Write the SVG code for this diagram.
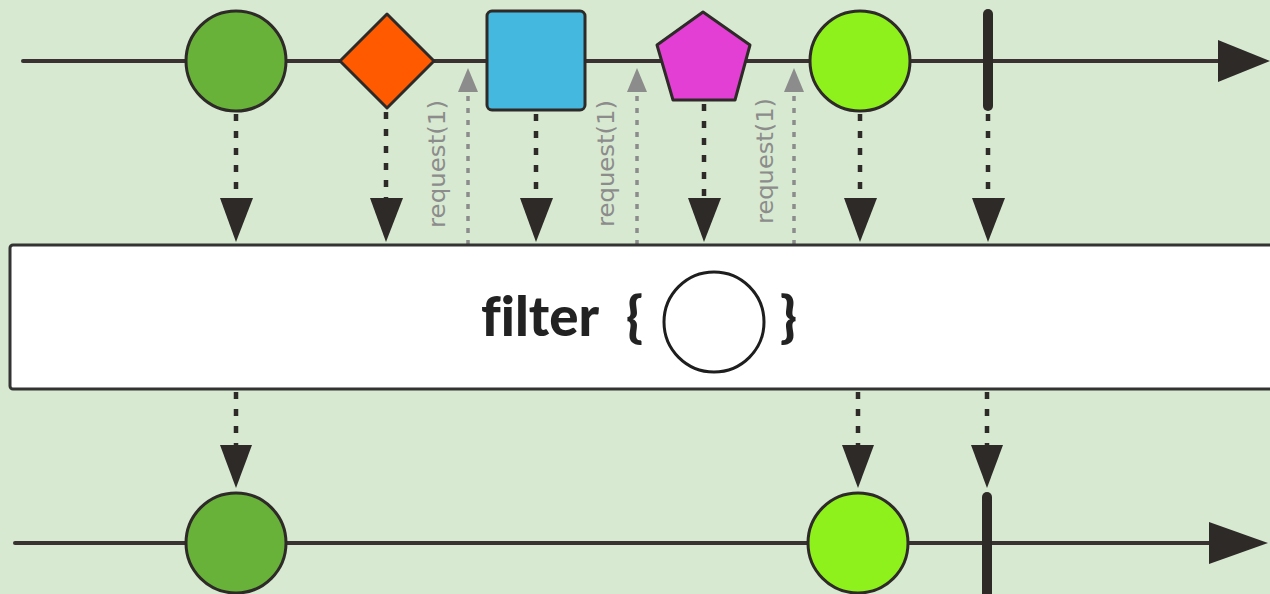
<svg xmlns="http://www.w3.org/2000/svg" width="1270" height="594" viewBox="0 0 1270 594">
  <style>
    .timeline { stroke: #3a3232; stroke-width: 4; fill: none; stroke-linecap: round; }
    .item { stroke: #2e2a28; stroke-width: 3; }
    .done { stroke: #2e2a28; stroke-width: 10; stroke-linecap: round; }
    .emit { stroke: #2e2a28; stroke-width: 4.5; stroke-dasharray: 7 10; fill: none; }
    .head { fill: #2e2a28; }
    .req { stroke: #8c8c8c; stroke-width: 3.5; stroke-dasharray: 5 7; fill: none; }
    .reqhead { fill: #8c8c8c; }
    .reqlabel { font-family: "DejaVu Sans", "Liberation Sans", sans-serif; font-size: 23px; fill: #8c8c8c; }
    .op { font-family: Lato, "Liberation Sans", sans-serif; font-weight: 900; font-size: 55px; fill: #222; font-variant-ligatures: none; }
  </style>

  <rect width="1270" height="594" fill="#d7e9d0"/>

  <!-- source timeline -->
  <g id="source-line">
    <line class="timeline" x1="23" y1="61" x2="1222" y2="61"/>
    <polygon class="head" points="1218,40 1270,61 1218,82"/>
  </g>

  <!-- result timeline -->
  <g id="result-line">
    <line class="timeline" x1="15" y1="543" x2="1212" y2="543"/>
    <polygon class="head" points="1209,522 1268,543 1209,564"/>
  </g>

  <!-- connectors: emissions, requests -->
  <g id="connectors">
    <line class="emit" x1="236" y1="114" x2="236" y2="200"/>
    <polygon class="head" points="220,198 253,198 236,242"/>
    <line class="emit" x1="386" y1="112" x2="386" y2="200"/>
    <polygon class="head" points="370,198 403,198 386,242"/>
    <line class="emit" x1="536" y1="114" x2="536" y2="200"/>
    <polygon class="head" points="520,198 553,198 536,242"/>
    <line class="emit" x1="704" y1="104" x2="704" y2="200"/>
    <polygon class="head" points="688,198 721,198 704,242"/>
    <line class="emit" x1="860" y1="114" x2="860" y2="200"/>
    <polygon class="head" points="844,198 877,198 860,242"/>
    <line class="emit" x1="988" y1="114" x2="988" y2="200"/>
    <polygon class="head" points="972,198 1005,198 988,242"/>

    <line class="emit" x1="236" y1="392" x2="236" y2="447"/>
    <polygon class="head" points="220,445 252,445 236,488"/>
    <line class="emit" x1="858" y1="392" x2="858" y2="447"/>
    <polygon class="head" points="842,445 874,445 858,488"/>
    <line class="emit" x1="987" y1="392" x2="987" y2="447"/>
    <polygon class="head" points="971,445 1003,445 987,488"/>

    <line class="req" x1="468" y1="245" x2="468" y2="92"/>
    <polygon class="reqhead" points="458,92 478,92 468,68"/>
    <line class="req" x1="637" y1="245" x2="637" y2="92"/>
    <polygon class="reqhead" points="627,92 647,92 637,68"/>
    <line class="req" x1="794" y1="245" x2="794" y2="92"/>
    <polygon class="reqhead" points="784,92 804,92 794,68"/>
  </g>

  <g id="request-labels">
    <text class="reqlabel" transform="translate(445,228) rotate(-90)" textLength="128" lengthAdjust="spacingAndGlyphs">request(1)</text>
    <text class="reqlabel" transform="translate(614,227) rotate(-90)" textLength="127" lengthAdjust="spacingAndGlyphs">request(1)</text>
    <text class="reqlabel" transform="translate(773,224) rotate(-90)" textLength="126" lengthAdjust="spacingAndGlyphs">request(1)</text>
  </g>

  <!-- source items -->
  <g id="src-circle-green"><circle class="item" cx="236" cy="61" r="50" fill="#68b23a"/></g>
  <g id="src-diamond"><polygon class="item" points="387,14 434,61 387,108 340,61" fill="#ff5a00" stroke-linejoin="round"/></g>
  <g id="src-square"><rect class="item" x="487" y="11" width="98" height="99" rx="5" fill="#44b8df"/></g>
  <g id="src-pentagon"><polygon class="item" points="703,12 750,45 735,100 673,100 657,45" fill="#e33fd4" stroke-linejoin="round"/></g>
  <g id="src-circle-lime"><circle class="item" cx="860" cy="61" r="50" fill="#8ef11c"/></g>
  <g id="src-complete"><line class="done" x1="988" y1="14" x2="988" y2="106"/></g>

  <!-- operator box -->
  <g id="operator">
    <rect x="10" y="245" width="1275" height="144" rx="3" fill="#ffffff" stroke="#333" stroke-width="3"/>
    <text class="op" x="481" y="336" textLength="118" lengthAdjust="spacingAndGlyphs">filter</text>
    <text class="op" x="626" y="336">{</text>
    <circle cx="714" cy="322" r="50" fill="#fff" stroke="#1e1e1e" stroke-width="3"/>
    <text class="op" x="780" y="336">}</text>
  </g>

  <!-- result items -->
  <g id="res-circle-green"><circle class="item" cx="236" cy="543" r="50" fill="#68b23a"/></g>
  <g id="res-circle-lime"><circle class="item" cx="858" cy="543" r="50" fill="#8ef11c"/></g>
  <g id="res-complete"><line class="done" x1="987" y1="497" x2="987" y2="600"/></g>
</svg>
